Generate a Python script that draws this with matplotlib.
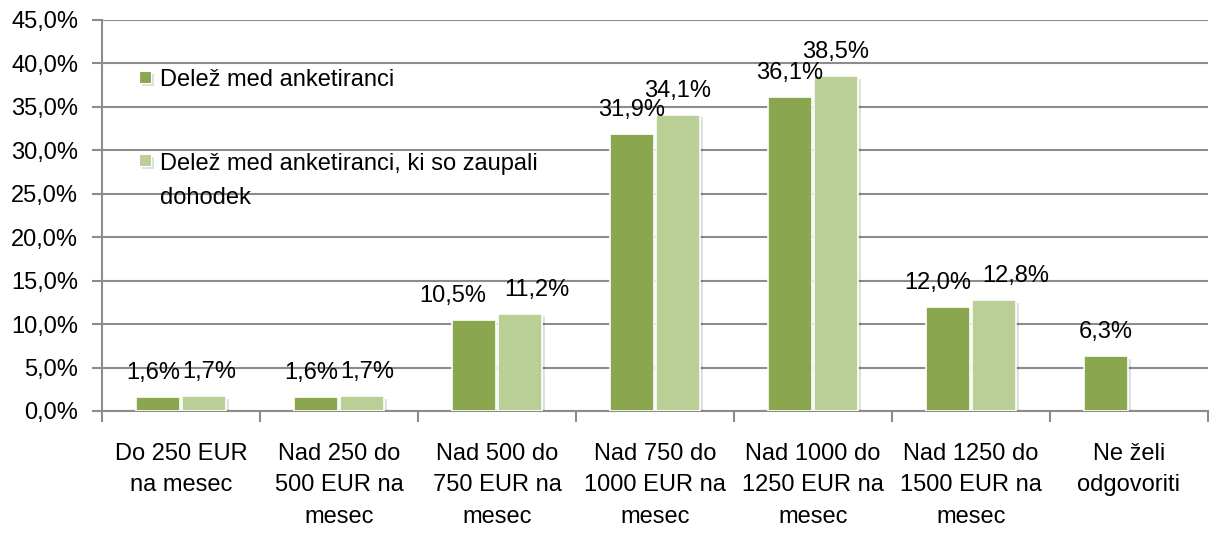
import matplotlib
matplotlib.use("Agg")
import matplotlib.pyplot as plt
import matplotlib.patheffects as pe
import numpy as np
from matplotlib.patches import Rectangle
from matplotlib.ticker import FuncFormatter, FixedLocator

categories = [
    "Do 250 EUR\nna mesec",
    "Nad 250 do\n500 EUR na\nmesec",
    "Nad 500 do\n750 EUR na\nmesec",
    "Nad 750 do\n1000 EUR na\nmesec",
    "Nad 1000 do\n1250 EUR na\nmesec",
    "Nad 1250 do\n1500 EUR na\nmesec",
    "Ne želi\nodgovoriti",
]
share_all = [1.6, 1.6, 10.5, 31.9, 36.1, 12.0, 6.3]
share_income = [1.7, 1.7, 11.2, 34.1, 38.5, 12.8, None]
labels = ["Delež med anketiranci",
          "Delež med anketiranci, ki so zaupali\ndohodek"]

DARK = "#8aa64f"
LIGHT = "#b9cf96"
GRID = "#8c8c8c"
FS = 17

# horizontal nudges (px) of data labels that Excel moved apart
NUDGE_ALL = {0: -5, 1: -5, 2: -21, 5: -10}
NUDGE_INCOME = {0: 5, 1: 5, 2: 17, 5: 22}

plt.rcParams["font.family"] = ["Liberation Sans", "DejaVu Sans"]
plt.rcParams["font.size"] = FS

W, H = 1210, 533
fig = plt.figure(figsize=(W / 100, H / 100), dpi=100)
ax = fig.add_axes([0.0843, 0.229, 0.9140, 0.7335])

x = np.arange(len(categories))
w = 0.28
off = 0.145
shadow = [pe.SimplePatchShadow(offset=(2, -2), shadow_rgbFace="#000000", alpha=0.12), pe.Normal()]


def fmt(v):
    return f"{v:.1f}%".replace(".", ",")


for vals, dx, color, nudge in [(share_all, -off, DARK, NUDGE_ALL),
                               (share_income, off, LIGHT, NUDGE_INCOME)]:
    idx = [i for i, v in enumerate(vals) if v is not None]
    xs = [x[i] + dx for i in idx]
    ys = [vals[i] for i in idx]
    bars = ax.bar(xs, ys, width=w, color=color, edgecolor="white", linewidth=1.2, zorder=3)
    for b in bars:
        b.set_path_effects(shadow)
    for i, xi, v in zip(idx, xs, ys):
        ax.annotate(fmt(v), (xi, v), xytext=(nudge.get(i, 0) * 0.72, 13),
                    textcoords="offset points", ha="center", va="baseline",
                    fontsize=FS, zorder=4)

ax.set_xlim(-0.5, len(categories) - 0.5)
ax.set_ylim(0, 45)
ax.set_yticks(np.arange(0, 46, 5))
ax.yaxis.set_major_formatter(FuncFormatter(lambda v, p: fmt(v)))
ax.yaxis.grid(True, color=GRID, linewidth=1.5, zorder=0)

ax.set_xticks(x)
ax.set_xticklabels(categories, linespacing=1.55)
ax.tick_params(axis="x", length=0, pad=23)
ax.xaxis.set_minor_locator(FixedLocator(np.arange(-0.5, len(categories), 1)))
ax.tick_params(axis="x", which="minor", length=8, color=GRID, width=1.5)
ax.tick_params(axis="y", length=7.2, color=GRID, width=1.5, pad=10)

for s in ["top", "right"]:
    ax.spines[s].set_visible(False)
for s in ["left", "bottom"]:
    ax.spines[s].set_color(GRID)
    ax.spines[s].set_linewidth(1.5)

# legend drawn by hand so the second marker sits on the first line of its label
# (marker centre y, baseline of the label's last line) in pixels from the top
for (cy, base, color, lab) in [(77, 85.5, DARK, labels[0]), (160, 203.5, LIGHT, labels[1])]:
    sq = Rectangle((139 / W, 1 - (cy + 6) / H), 12 / W, 12 / H,
                   transform=fig.transFigure, facecolor=color, edgecolor="white",
                   linewidth=0.8, zorder=5)
    sq.set_path_effects(shadow)
    fig.patches.append(sq)
    fig.text(160 / W, 1 - base / H, lab, fontsize=FS, va="baseline",
             ha="left", linespacing=1.7)

fig.savefig("out.png", dpi=100)
